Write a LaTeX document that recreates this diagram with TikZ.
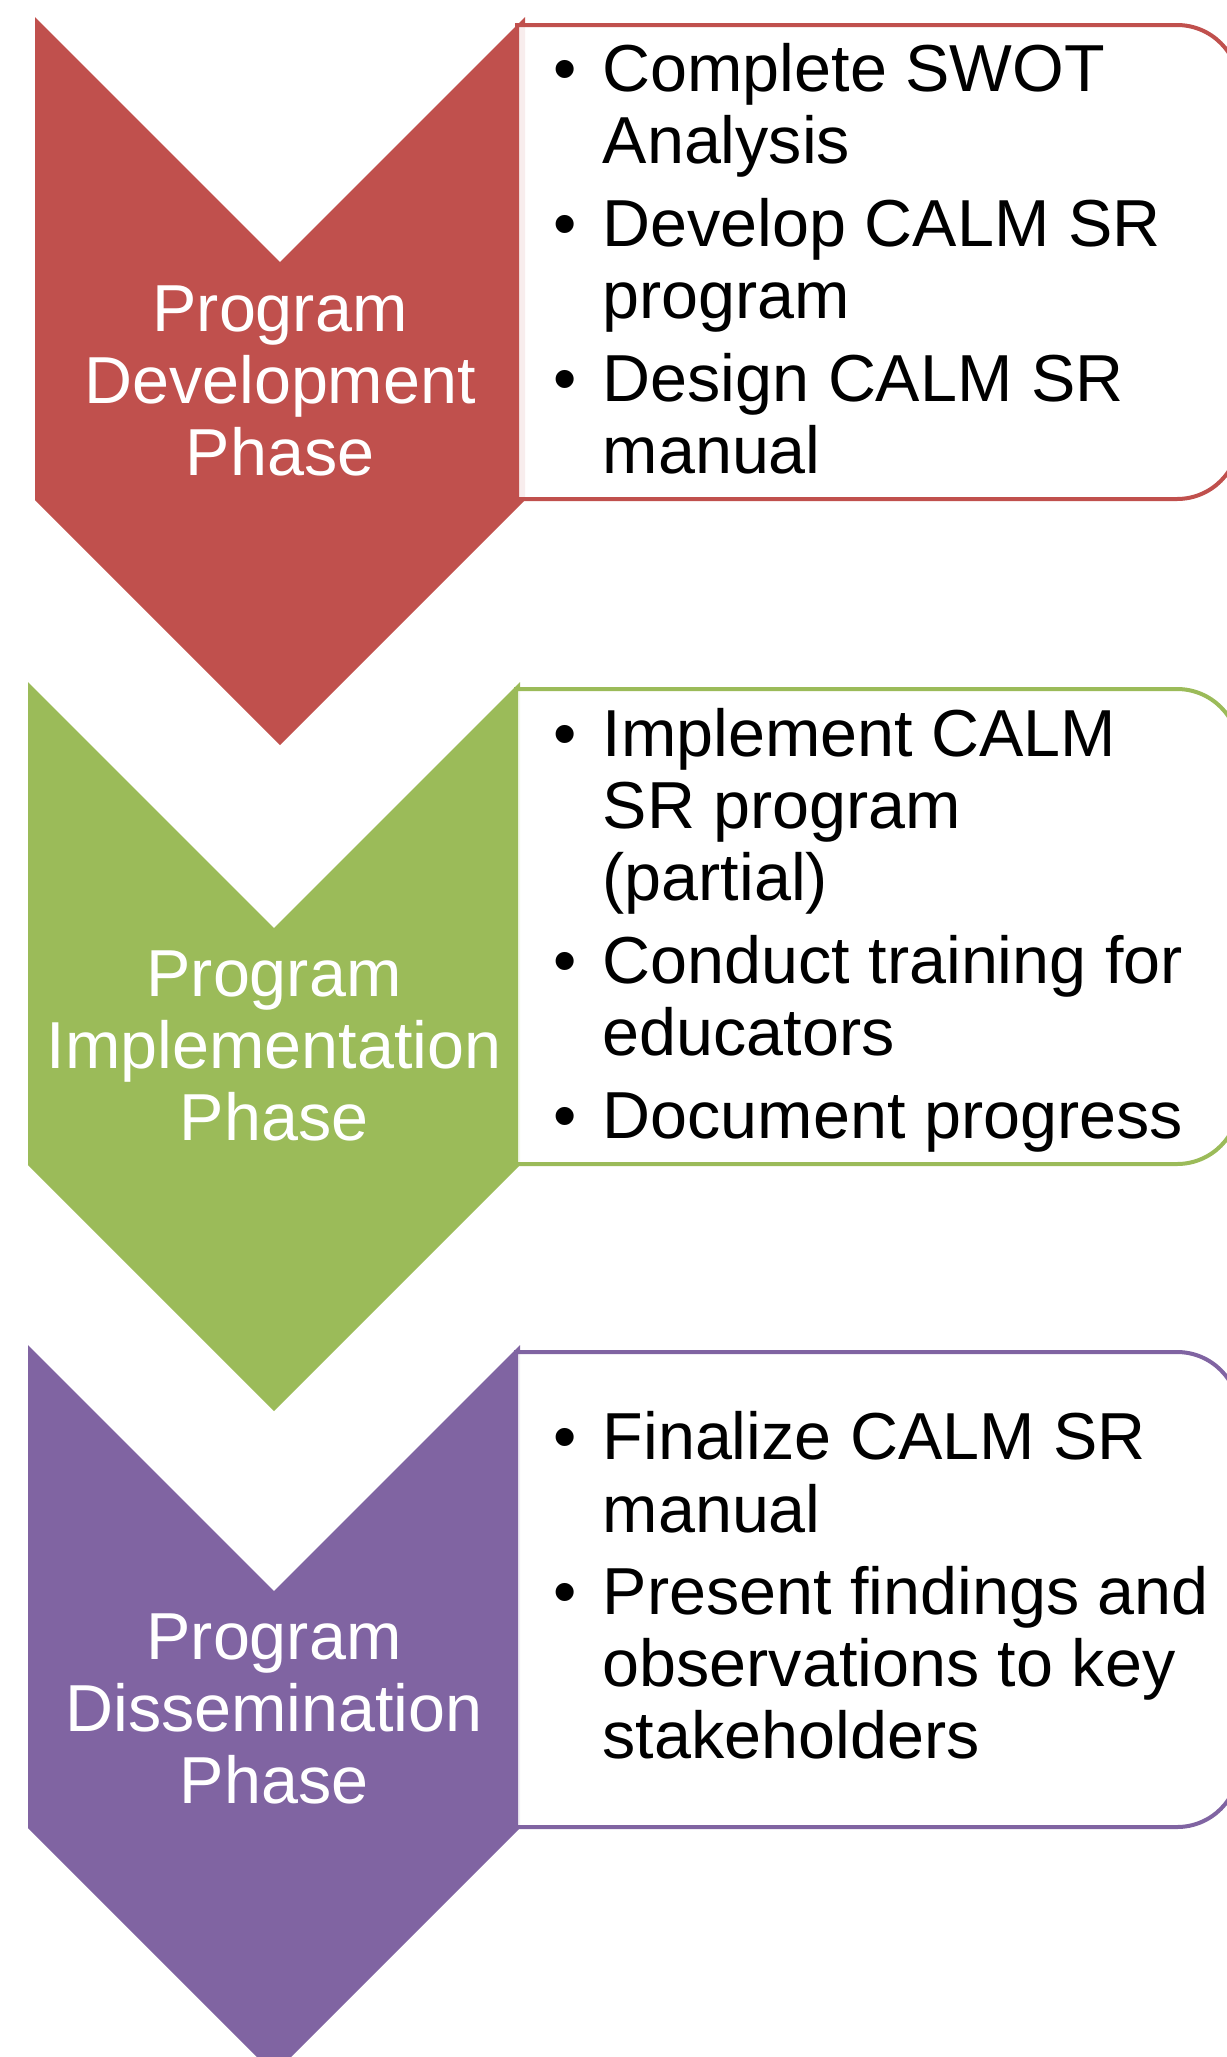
\documentclass[tikz,border=0pt]{standalone}
\usepackage{fontspec}
\setmainfont{Liberation Sans}
\definecolor{devred}{HTML}{C0504D}
\definecolor{impgreen}{HTML}{9BBB59}
\definecolor{dispurple}{HTML}{8064A2}
\newcommand{\bul}{\makebox[0.49cm][l]{\textbullet}}

\begin{document}
\begin{tikzpicture}[x=0.01cm,y=-0.01cm,
    every node/.style={inner sep=0pt,font=\fontsize{18.9}{20.5}\selectfont},
    phase/.style={text=white,align=center},
    items/.style={anchor=west,align=left},
    itembox/.style={line width=0.04cm,fill=white,fill opacity=0.9}]
  \clip (0,0) rectangle (1227,2057);

  \fill[devred] (35,17) -- (280,262) -- (525,17) -- (525,500) -- (280,745) -- (35,500) -- cycle;
  \filldraw[itembox,draw=devred] (517,25) -- (1177,25) arc[start angle=-90,end angle=0,radius=62]
    -- (1239,437) arc[start angle=0,end angle=90,radius=62] -- (517,499) -- cycle;
  \node[phase] (dev) at (280,381) {Program\\Development\\Phase};
  \node[items] (devlist) at (553,268) {%
    \begin{tabular}{@{}l@{}l@{}}
      \bul & Complete SWOT\\
           & Analysis\\[3pt]
      \bul & Develop CALM SR\\
           & program\\[3pt]
      \bul & Design CALM SR\\
           & manual
    \end{tabular}};

  \fill[impgreen] (28,682) -- (274,928) -- (520,682) -- (520,1165) -- (274,1411) -- (28,1165) -- cycle;
  \filldraw[itembox,draw=impgreen] (516,689) -- (1177,689) arc[start angle=-90,end angle=0,radius=62]
    -- (1239,1102) arc[start angle=0,end angle=90,radius=62] -- (516,1164) -- cycle;
  \node[phase] (imp) at (274,1046) {Program\\Implementation\\Phase};
  \node[items] (implist) at (553,933) {%
    \begin{tabular}{@{}l@{}l@{}}
      \bul & Implement CALM\\
           & SR program\\
           & (partial)\\[3pt]
      \bul & Conduct training for\\
           & educators\\[3pt]
      \bul & Document progress
    \end{tabular}};

  \fill[dispurple] (28,1345) -- (274,1591) -- (520,1345) -- (520,1828) -- (274,2074) -- (28,1828) -- cycle;
  \filldraw[itembox,draw=dispurple] (516,1352) -- (1177,1352) arc[start angle=-90,end angle=0,radius=62]
    -- (1239,1765) arc[start angle=0,end angle=90,radius=62] -- (516,1827) -- cycle;
  \node[phase] (dis) at (274,1709) {Program\\Dissemination\\Phase};
  \node[items] (dislist) at (553,1595) {%
    \begin{tabular}{@{}l@{}l@{}}
      \bul & Finalize CALM SR\\
           & manual\\[3pt]
      \bul & Present findings and\\
           & observations to key\\
           & stakeholders
    \end{tabular}};
\end{tikzpicture}
\end{document}
